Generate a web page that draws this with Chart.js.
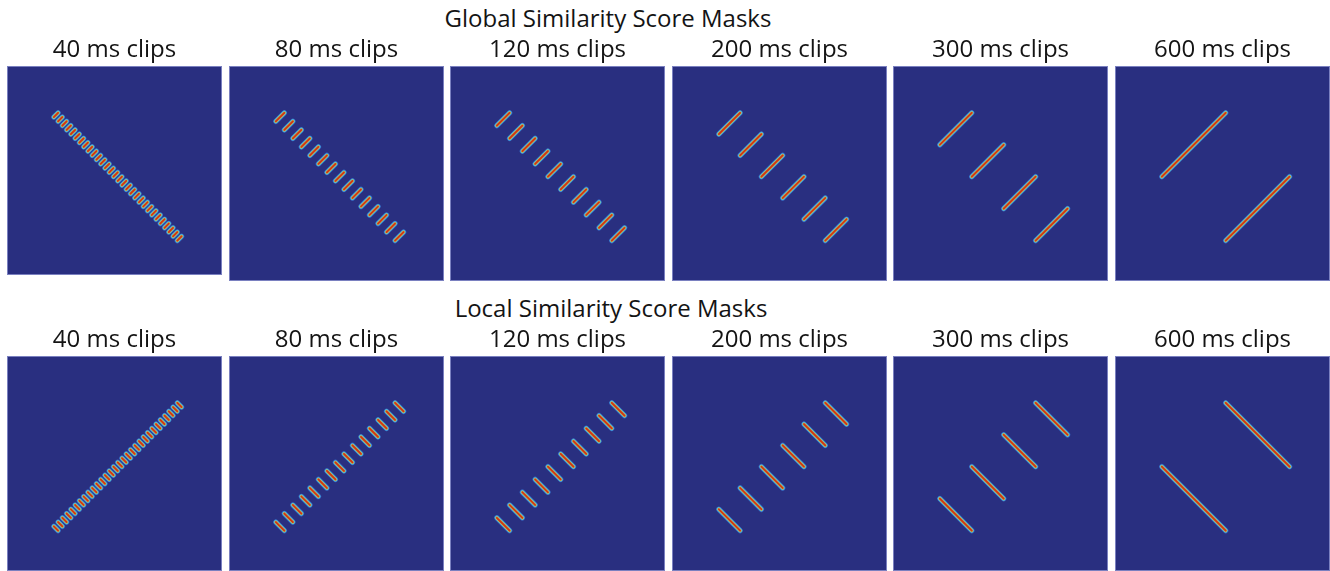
<!DOCTYPE html>
<html>
<head>
<meta charset="utf-8">
<script src="https://cdn.jsdelivr.net/npm/chart.js@4/dist/chart.umd.min.js"></script>
<style>
  html, body { margin: 0; padding: 0; background: #ffffff; }
  body { width: 1330px; height: 571px; position: relative; overflow: hidden; font-family: "Open Sans", sans-serif; }
  .heading { position: absolute; font-size: 24px; line-height: 24px; color: #141414; white-space: nowrap; text-align: center; width: 600px; }
  canvas { position: absolute; }
</style>
</head>
<body>
<div class="heading" id="globalHeading" style="left:308px; top:6px;"></div>
<div class="heading" id="localHeading" style="left:311px; top:296px;"></div>
<script>
// Row headings and panel titles
const globalTitle = "Global Similarity Score Masks";
const localTitle = "Local Similarity Score Masks";
const clipLabels = ["40 ms clips", "80 ms clips", "120 ms clips", "200 ms clips", "300 ms clips", "600 ms clips"];

// Clip length (ms) and clip onsets (ms) for each panel over the 1200 ms recording
const recordingMs = 1200;
const clipLengthsMs = [40, 80, 120, 200, 300, 600];
const onsets40 = [0, 40, 80, 120, 160, 200, 240, 280, 320, 360, 400, 440, 480, 520, 560, 600,
                  640, 680, 720, 760, 800, 840, 880, 920, 960, 1000, 1040, 1080, 1120, 1160];
const onsets80 = [0, 80, 160, 240, 320, 400, 480, 560, 640, 720, 800, 880, 960, 1040, 1120];
const onsets120 = [0, 120, 240, 360, 480, 600, 720, 840, 960, 1080];
const onsets200 = [0, 200, 400, 600, 800, 1000];
const onsets300 = [0, 300, 600, 900];
const onsets600 = [0, 600];
const clipOnsets = [onsets40, onsets80, onsets120, onsets200, onsets300, onsets600];

// Similarity-matrix axis range (ms)
const axisMin = -440;
const axisMax = 1580;

document.getElementById("globalHeading").textContent = globalTitle;
document.getElementById("localHeading").textContent = localTitle;

const panelLefts = [7, 229, 450, 672, 893, 1115];
const panelSize = 215;
const titleBand = 36;

// Glow layers of each mask stripe, from outer halo to hot core
const glowLayers = [
  { color: "#3566c0", width: 5.4 },
  { color: "#46aee0", width: 4.3 },
  { color: "#a6cf70", width: 3.1 },
  { color: "#e2862a", width: 2.2 },
  { color: "#cc3618", width: 1.7 }
];

function stripePoints(onsets, len, kind) {
  const pts = [];
  onsets.forEach(o => {
    if (kind === "global") {
      // anti-diagonal inside each diagonal block
      pts.push({ x: o, y: o + len }, { x: o + len, y: o });
    } else {
      // diagonal inside the mirrored off-diagonal block
      pts.push({ x: o, y: recordingMs - o - len }, { x: o + len, y: recordingMs - o });
    }
    pts.push({ x: o + len, y: null });
  });
  return pts;
}

const panelFrame = {
  id: "panelFrame",
  beforeDatasetsDraw(chart) {
    const a = chart.chartArea, ctx = chart.ctx;
    ctx.save();
    ctx.fillStyle = "#292f80";
    ctx.fillRect(a.left, a.top, a.right - a.left, a.bottom - a.top);
    ctx.restore();
  },
  afterDraw(chart) {
    const a = chart.chartArea, ctx = chart.ctx;
    ctx.save();
    ctx.strokeStyle = "#7a80c0";
    ctx.lineWidth = 1;
    ctx.strokeRect(a.left + 0.5, a.top + 0.5, a.right - a.left - 1, a.bottom - a.top - 1);
    ctx.restore();
  }
};

function makePanel(kind, idx, top, areaHeight) {
  const canvas = document.createElement("canvas");
  canvas.width = panelSize;
  canvas.height = titleBand + areaHeight;
  canvas.style.left = panelLefts[idx] + "px";
  canvas.style.top = top + "px";
  canvas.style.width = panelSize + "px";
  canvas.style.height = (titleBand + areaHeight) + "px";
  document.body.appendChild(canvas);

  const data = stripePoints(clipOnsets[idx], clipLengthsMs[idx], kind);
  const yMax = axisMin + (axisMax - axisMin) * areaHeight / panelSize;

  new Chart(canvas, {
    type: "line",
    data: {
      datasets: glowLayers.map((g, i) => ({
        data: data,
        borderColor: g.color,
        borderWidth: g.width,
        borderCapStyle: "round",
        borderJoinStyle: "round",
        pointRadius: 0,
        spanGaps: false,
        fill: false,
        tension: 0,
        order: glowLayers.length - i
      }))
    },
    options: {
      responsive: false,
      animation: false,
      events: [],
      layout: { padding: 0 },
      scales: {
        x: { type: "linear", min: axisMin, max: axisMax, display: false },
        y: { type: "linear", min: axisMin, max: yMax, reverse: true, display: false }
      },
      plugins: {
        legend: { display: false },
        tooltip: { enabled: false },
        title: {
          display: true,
          text: clipLabels[idx],
          color: "#141414",
          font: { family: "Open Sans", size: 24, weight: "normal", lineHeight: 1.2 },
          padding: { top: 6, bottom: 1.2 }
        }
      }
    },
    plugins: [panelFrame]
  });
}

for (let i = 0; i < 6; i++) {
  makePanel("global", i, 30, i === 0 ? 209 : panelSize);
  makePanel("local", i, 320, panelSize);
}
</script>
</body>
</html>
